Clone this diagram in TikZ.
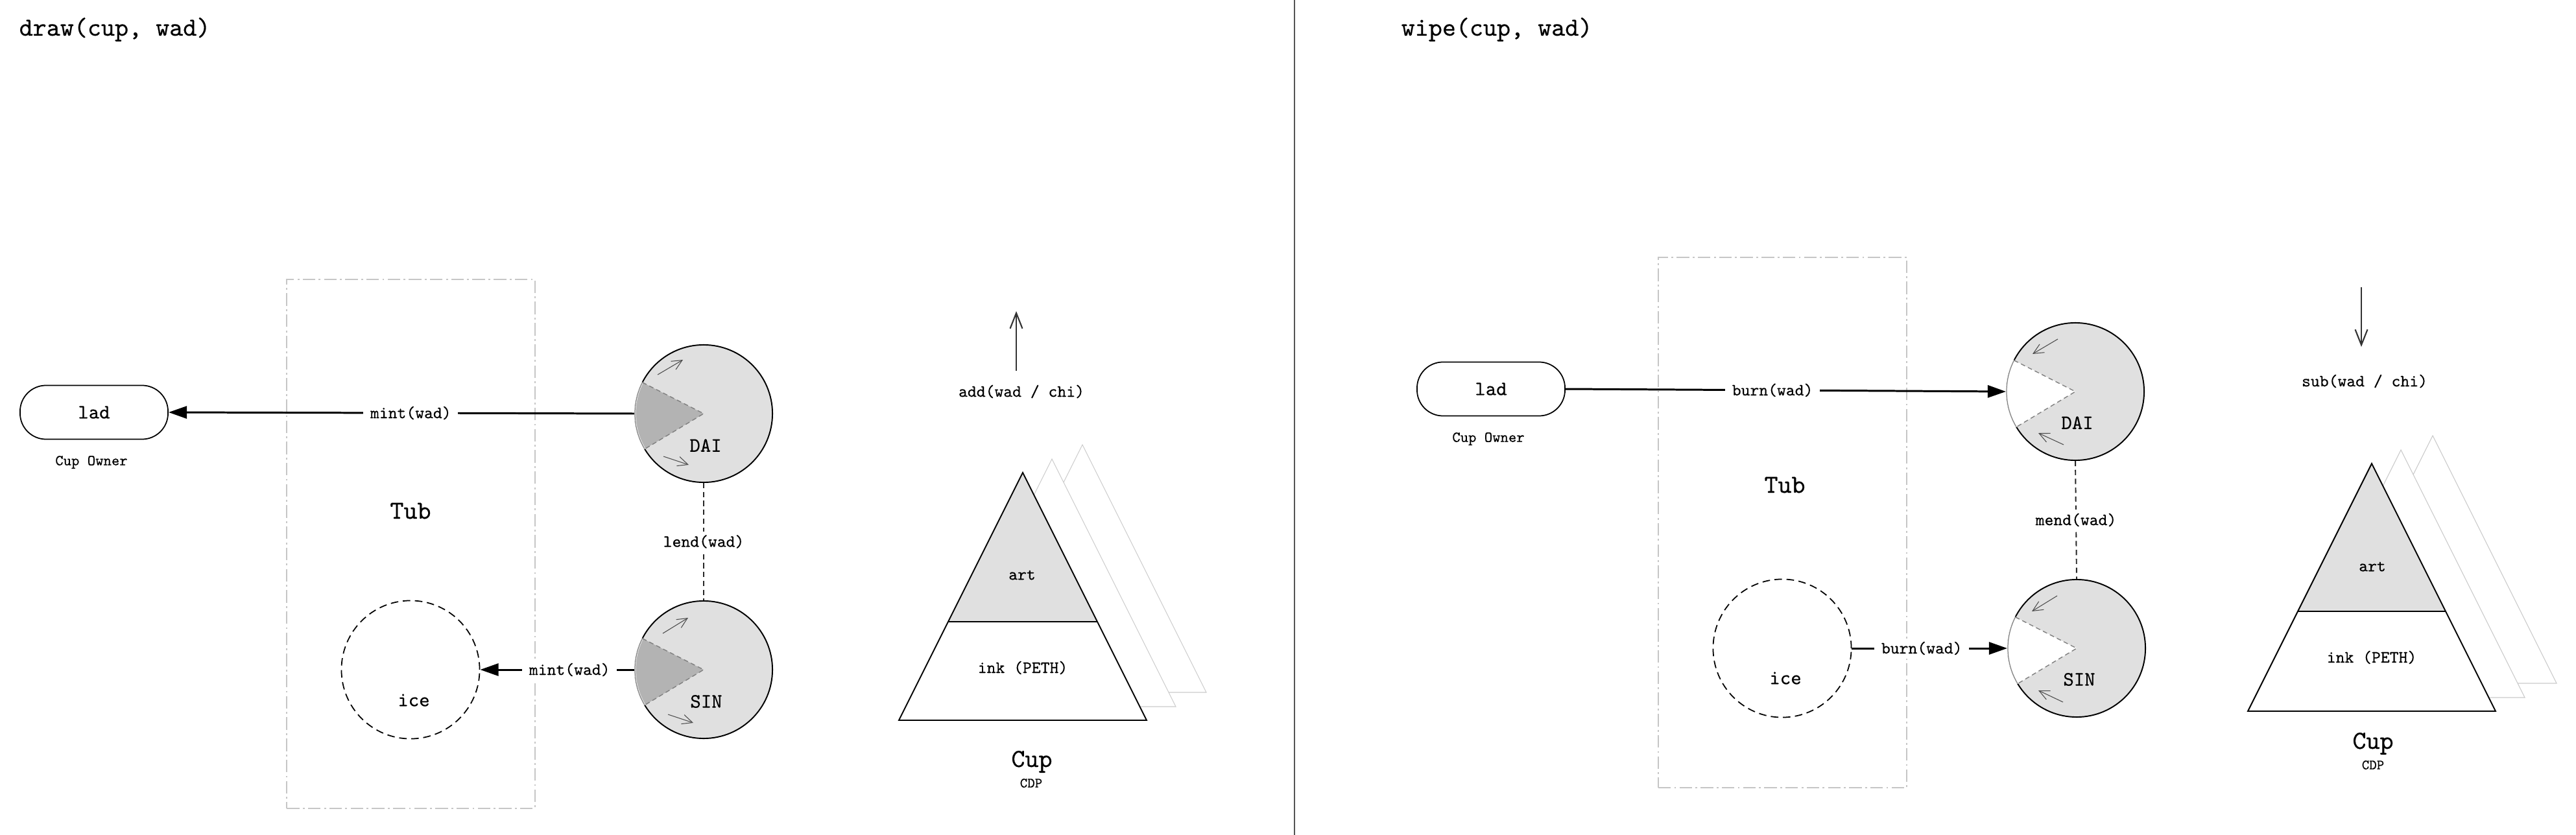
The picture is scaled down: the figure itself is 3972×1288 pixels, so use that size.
\documentclass[tikz,border=0pt]{standalone}
\usepackage{fontspec}
\newfontfamily\mymono[FakeBold=0.4]{lmmono10-regular.otf}
\usetikzlibrary{arrows.meta,calc}
\definecolor{piefill}{HTML}{E0E0E0}
\definecolor{wedgefill}{HTML}{B3B3B3}
\definecolor{tubline}{HTML}{C6C6C6}
\definecolor{ghostline}{HTML}{CCCCCC}
\definecolor{wedgeline}{HTML}{808080}
\definecolor{divline}{HTML}{555555}
\newcommand\myfs[1]{\mymono\fontsize{#1}{#1}\selectfont}
\newcommand\mywedge[2]{%
  \fill[#2] (#1.center) -- ++(153:1.06cm) arc[start angle=153,end angle=211,radius=1.06cm] -- cycle;
  \draw[white,line width=0.75pt] (#1.center) ++(153:1.06cm) arc[start angle=153,end angle=211,radius=1.06cm];
  \draw[wedgeline,line width=0.35pt] (#1.center) ++(153:1.06cm) arc[start angle=153,end angle=211,radius=1.06cm];
  \draw[wedgeline,line width=0.4pt,dash pattern=on 2pt off 1.4pt] (#1.center) ++(153:1.06cm) -- (#1.center) -- ++(211:1.06cm);
}
\begin{document}
\begin{tikzpicture}[x=0.01cm,y=-0.01cm,
  every node/.style={inner sep=0pt},
  conn/.style={line width=0.85pt,-{Triangle[length=8pt,width=5.4pt]}},
  elabel/.style={font=\myfs{7.5pt},fill=white,inner xsep=3pt,inner ysep=1.5pt},
  pie/.style={circle,draw=black,line width=0.55pt,fill=piefill,minimum size=2.12cm,inner sep=0pt},
  icenode/.style={circle,draw=black,line width=0.5pt,dash pattern=on 3.3pt off 2pt,minimum size=2.13cm,inner sep=0pt},
  tubbox/.style={draw=tubline,line width=0.55pt,dash pattern=on 5.5pt off 1.5pt on 0.8pt off 1.5pt,minimum width=3.82cm,minimum height=8.16cm,inner sep=0pt},
  ladbox/.style={draw=black,line width=0.5pt,rounded corners=0.4cm,minimum width=2.28cm,minimum height=0.83cm,inner sep=0pt,font=\myfs{8.9pt}},
  coinlbl/.style={font=\myfs{8.9pt}},
  smalllbl/.style={font=\myfs{6.7pt}},
  tinylbl/.style={font=\myfs{6.2pt}},
  heading/.style={font=\myfs{11.4pt}},
  midlbl/.style={font=\myfs{7.5pt}},
  vlink/.style={draw=black!85,line width=0.55pt,dash pattern=on 2.3pt off 1.6pt},
  spin/.style={draw=black!70,line width=0.3pt,-{Straight Barb[length=4.5pt,width=4.2pt]}},
  flow/.style={draw=black!80,line width=0.6pt,-{Straight Barb[length=6.8pt,width=5.4pt]}},
  ghost/.style={draw=ghostline,line width=0.3pt,fill=white},
  tri/.style={draw=black,line width=0.55pt},
]
\fill[white] (0,0) rectangle (3972,1288);
\useasboundingbox (0,0) rectangle (3972,1288);

% divider and titles
\coordinate (divtop) at (1996,0);
\coordinate (divbot) at (1996,1288);
\draw[divline,line width=0.7pt] (divtop) -- (divbot);
\node[heading,anchor=base west] (title1) at (29,55) {draw(cup, wad)};
\node[heading,anchor=base west] (title2) at (2160,55) {wipe(cup, wad)};

% ================= LEFT: draw =================
\node[tubbox] (tub1) at (633.5,839) {};
\node[heading] (tublbl1) at (633,788) {Tub};
\node[ladbox] (lad1) at (145,636) {lad};
\node[smalllbl] (owner1) at (141,713) {Cup Owner};

\node[pie] (dai1) at (1085,638) {};
\mywedge{dai1}{wedgefill}
\node[coinlbl] (dailbl1) at ($(dai1)+(3,49)$) {DAI};
\draw[spin] ($(dai1)+(-71,-60)$) -- ($(dai1)+(-32,-83)$);
\draw[spin] ($(dai1)+(-62,66)$) -- ($(dai1)+(-23,79)$);

\node[pie] (sin1) at (1085,1033) {};
\mywedge{sin1}{wedgefill}
\node[coinlbl] (sinlbl1) at ($(sin1)+(4,49)$) {SIN};
\draw[spin] ($(sin1)+(-63,-56)$) -- ($(sin1)+(-24,-80)$);
\draw[spin] ($(sin1)+(-55,69)$) -- ($(sin1)+(-16,82)$);

\node[icenode] (ice1) at (633,1033) {};
\node[coinlbl] (icelbl1) at ($(ice1)+(5,47)$) {ice};

\draw[conn] (dai1.west) -- (lad1.east) node[elabel,pos=0.48] (mint1) {mint(wad)};
\draw[conn] (sin1.west) -- (ice1.east) node[elabel,pos=0.42] (mint2) {mint(wad)};
\draw[vlink] (dai1.south) -- (sin1.north) node[elabel,midway] (lend1) {lend(wad)};

% cup stack left
\coordinate (apex1) at (1577,729);
\draw[ghost] ($(apex1)+(92,-43)$) -- ++(191,382) -- ++(-382,0) -- cycle;
\draw[ghost] ($(apex1)+(45,-21)$) -- ++(191,382) -- ++(-382,0) -- cycle;
\fill[white] (apex1) -- ++(191,382) -- ++(-382,0) -- cycle;
\fill[piefill] (apex1) -- ++(115,230) -- ++(-230,0) -- cycle;
\draw[tri] (apex1) -- ++(191,382) -- ++(-382,0) -- cycle;
\draw[tri] ($(apex1)+(-115,230)$) -- ++(230,0);
\node[midlbl] (art1) at ($(apex1)+(-1,158)$) {art};
\node[midlbl] (ink1) at ($(apex1)+(0,301)$) {ink (PETH)};
\node[heading] (cup1) at (1591,1175) {Cup};
\node[tinylbl] (cdp1) at (1590,1208) {CDP};
\coordinate (up1a) at (1567,572);
\coordinate (up1b) at (1567,480);
\draw[flow] (up1a) -- (up1b);
\node[midlbl] (add1) at (1575,604) {add(wad / chi)};

% ================= RIGHT: wipe =================
\node[tubbox,minimum width=3.83cm,minimum height=8.18cm] (tub2) at (2748.5,806) {};
\node[heading] (tublbl2) at (2752,748) {Tub};
\node[ladbox] (lad2) at (2299,600) {lad};
\node[smalllbl] (owner2) at (2295,677) {Cup Owner};

\node[pie] (dai2) at (3200,604) {};
\mywedge{dai2}{white}
\node[coinlbl] (dailbl2) at ($(dai2)+(3,48)$) {DAI};
\draw[spin] ($(dai2)+(-27,-81)$) -- ($(dai2)+(-66,-58)$);
\draw[spin] ($(dai2)+(-18,82)$) -- ($(dai2)+(-57,64)$);

\node[pie] (sin2) at (3202,1000) {};
\mywedge{sin2}{white}
\node[coinlbl] (sinlbl2) at ($(sin2)+(4,48)$) {SIN};
\draw[spin] ($(sin2)+(-30,-81)$) -- ($(sin2)+(-69,-57)$);
\draw[spin] ($(sin2)+(-21,83)$) -- ($(sin2)+(-59,65)$);

\node[icenode] (ice2) at (2748,1000) {};
\node[coinlbl] (icelbl2) at ($(ice2)+(5,46)$) {ice};

\draw[conn] (lad2.east) -- (dai2.west) node[elabel,pos=0.47] (burn1) {burn(wad)};
\draw[conn] (ice2.east) -- (sin2.west) node[elabel,pos=0.45] (burn2) {burn(wad)};
\draw[vlink] (dai2.south) -- (sin2.north) node[elabel,midway] (mend1) {mend(wad)};

% cup stack right
\coordinate (apex2) at (3657,715);
\draw[ghost] ($(apex2)+(94,-43)$) -- ++(191,382) -- ++(-382,0) -- cycle;
\draw[ghost] ($(apex2)+(45,-21)$) -- ++(191,382) -- ++(-382,0) -- cycle;
\fill[white] (apex2) -- ++(191,382) -- ++(-382,0) -- cycle;
\fill[piefill] (apex2) -- ++(114,228) -- ++(-228,0) -- cycle;
\draw[tri] (apex2) -- ++(191,382) -- ++(-382,0) -- cycle;
\draw[tri] ($(apex2)+(-114,228)$) -- ++(228,0);
\node[midlbl] (art2) at ($(apex2)+(1,159)$) {art};
\node[midlbl] (ink2) at ($(apex2)+(0,299)$) {ink (PETH)};
\node[heading] (cup2) at (3659,1147) {Cup};
\node[tinylbl] (cdp2) at (3659,1180) {CDP};
\coordinate (dn2a) at (3641,443);
\coordinate (dn2b) at (3641,535);
\draw[flow] (dn2a) -- (dn2b);
\node[midlbl] (sub2) at (3646,588) {sub(wad / chi)};
\end{tikzpicture}
\end{document}
